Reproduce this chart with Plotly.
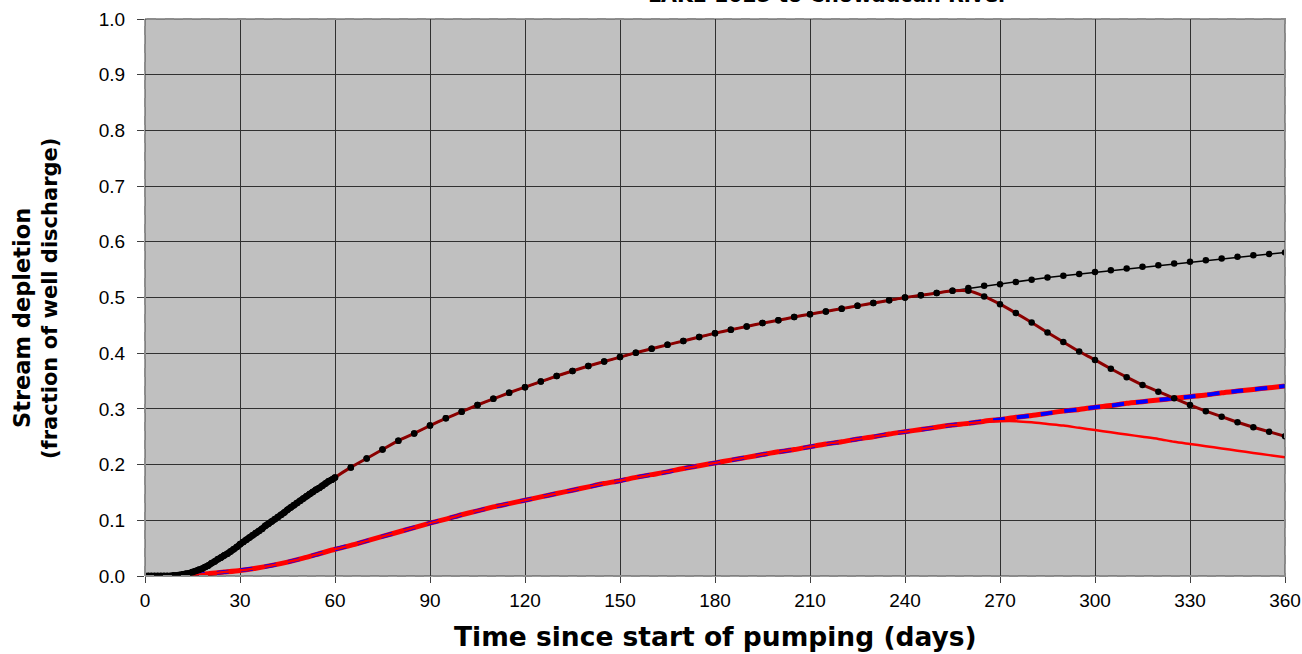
import plotly.graph_objects as go

# ---------------- data ----------------
# time axis (days): daily to 60, then every 5 days
t_dense = list(range(0, 61))
t_sparse = list(range(65, 361, 5))

# continuous pumping, upper curve (fraction of well discharge)
dep_dense = [0.000, 0.000, 0.000, 0.000, 0.000, 0.000, 0.000, 0.000, 0.000, 0.001,
             0.001, 0.002, 0.003, 0.004, 0.005, 0.007, 0.009, 0.011, 0.013, 0.016,
             0.019, 0.023, 0.026, 0.030, 0.033, 0.037, 0.040, 0.044, 0.048, 0.052,
             0.057, 0.061, 0.065, 0.069, 0.073, 0.077, 0.081, 0.085, 0.090, 0.094,
             0.098, 0.102, 0.106, 0.110, 0.114, 0.119, 0.123, 0.127, 0.131, 0.135,
             0.139, 0.143, 0.147, 0.151, 0.155, 0.158, 0.162, 0.166, 0.170, 0.173,
             0.177]
dep_sparse = [0.195, 0.211, 0.227, 0.243, 0.256, 0.270, 0.283, 0.295, 0.307, 0.318,
              0.329, 0.339, 0.349, 0.359, 0.368, 0.377, 0.385, 0.393, 0.401, 0.408,
              0.415, 0.422, 0.429, 0.436, 0.442, 0.448, 0.454, 0.459, 0.465, 0.470,
              0.475, 0.480, 0.485, 0.490, 0.495, 0.500, 0.504, 0.508, 0.512, 0.517,
              0.521, 0.524, 0.528, 0.532, 0.536, 0.539, 0.542, 0.546, 0.549, 0.552,
              0.555, 0.558, 0.561, 0.564, 0.567, 0.570, 0.573, 0.576, 0.578, 0.581]

# upper curve after pumping stops (days 260..360)
stop_count_upper = 39  # number of sparse points up to day 255
rec_upper_tail = [0.512, 0.502, 0.488, 0.472, 0.455, 0.437, 0.420, 0.403, 0.388, 0.372,
                  0.357, 0.343, 0.331, 0.319, 0.307, 0.296, 0.286, 0.276, 0.267, 0.259,
                  0.251]

# lower curve, continuous pumping (every 5 days 0..360)
t_lower = list(range(0, 361, 5))
lower_cont = [0.000, 0.000, 0.001, 0.002, 0.004, 0.007, 0.010, 0.014, 0.019, 0.025,
              0.032, 0.040, 0.048, 0.055, 0.063, 0.071, 0.079, 0.087, 0.095, 0.102,
              0.110, 0.117, 0.124, 0.130, 0.136, 0.142, 0.148, 0.154, 0.160, 0.166,
              0.171, 0.177, 0.182, 0.187, 0.193, 0.198, 0.203, 0.208, 0.213, 0.218,
              0.223, 0.227, 0.232, 0.237, 0.241, 0.246, 0.250, 0.255, 0.259, 0.263,
              0.267, 0.271, 0.274, 0.278, 0.281, 0.285, 0.288, 0.292, 0.296, 0.299,
              0.303, 0.306, 0.310, 0.313, 0.316, 0.319, 0.322, 0.325, 0.329, 0.332,
              0.335, 0.338, 0.341]
stop_count_lower = 53  # points up to day 260
rec_lower_tail = [0.277, 0.278, 0.278, 0.276, 0.273, 0.270, 0.266, 0.262, 0.258, 0.254,
                  0.250, 0.246, 0.241, 0.237, 0.233, 0.229, 0.225, 0.221, 0.217, 0.213]

x_ticks = list(range(0, 361, 30))
y_ticks = [round(v * 0.1, 1) for v in range(0, 11)]

title_text = "LAKE 1025 to Chowaucan River"
x_title = "Time since start of pumping (days)"
y_title_lines = ["Stream depletion", "(fraction of well discharge)"]

# ---------------- build ----------------
t_upper = t_dense + t_sparse
upper_cont = dep_dense + dep_sparse
upper_rec = dep_dense + dep_sparse[:stop_count_upper] + rec_upper_tail
lower_rec = lower_cont[:stop_count_lower] + rec_lower_tail

FONT = "Liberation Sans, Arial, sans-serif"
TFONT = "DejaVu Sans, Liberation Sans, Arial, sans-serif"

W, H = 1302, 654
ML, MR, MT, MB = 145, 17, 19, 78
PW, PH = W - ML - MR, H - MT - MB


def px_to_paper_x(px):
    return (px - ML) / PW


def px_to_paper_y(py):
    return (H - MB - py) / PH


fig = go.Figure()

# lower curves
fig.add_trace(go.Scatter(x=t_lower, y=lower_cont, mode="lines",
                         line=dict(color="#FF0000", width=5, shape="spline", smoothing=0.6),
                         showlegend=False))
fig.add_trace(go.Scatter(x=t_lower, y=lower_cont, mode="lines",
                         line=dict(color="#0000FF", width=4, dash="dash", shape="spline",
                                   smoothing=0.6),
                         showlegend=False))
fig.add_trace(go.Scatter(x=t_lower, y=lower_rec, mode="lines",
                         line=dict(color="#FF0000", width=2.5, shape="spline", smoothing=0.8),
                         showlegend=False))

# upper curves
fig.add_trace(go.Scatter(x=t_upper, y=upper_cont, mode="lines+markers",
                         line=dict(color="#000000", width=1.5),
                         marker=dict(color="#000000", size=6.5), showlegend=False))
fig.add_trace(go.Scatter(x=t_upper, y=upper_rec, mode="lines+markers",
                         line=dict(color="#8B0000", width=3, shape="spline", smoothing=0.4),
                         marker=dict(color="#000000", size=6.5), showlegend=False))
# densely spaced daily markers merge into a solid band
fig.add_trace(go.Scatter(x=t_dense, y=dep_dense, mode="lines",
                         line=dict(color="#000000", width=6.5, shape="spline", smoothing=0.5),
                         showlegend=False))

fig.update_layout(
    width=W, height=H,
    margin=dict(l=ML, r=MR, t=MT, b=MB, autoexpand=False),
    paper_bgcolor="white",
    plot_bgcolor="#C0C0C0",
    font=dict(family=FONT, size=19, color="black"),
    showlegend=False,
)

fig.update_xaxes(range=[0, 360], tickvals=x_ticks, ticktext=[str(v) for v in x_ticks],
                 showgrid=True, gridcolor="#303030", gridwidth=1, zeroline=False,
                 ticks="outside", ticklen=6, tickcolor="#404040", automargin=False,
                 ticklabelstandoff=1, showline=False)
fig.update_yaxes(range=[0, 1.0], tickvals=y_ticks, ticktext=[f"{v:.1f}" for v in y_ticks],
                 showgrid=True, gridcolor="#303030", gridwidth=1, zeroline=False,
                 ticks="outside", ticklen=7, tickcolor="#404040", automargin=False,
                 ticklabelstandoff=8, showline=False)

# plot-area border (dashed gray)
fig.add_shape(type="rect", xref="paper", yref="paper", x0=0, y0=0, x1=1, y1=1,
              line=dict(color="#404040", width=1), layer="above")
fig.add_shape(type="rect", xref="paper", yref="paper", x0=0, y0=0, x1=1, y1=1,
              line=dict(color="#8c8c8c", width=2, dash="dash"), layer="above")

# x-axis title
fig.add_annotation(text="<b>" + x_title + "</b>", xref="paper", yref="paper",
                   x=px_to_paper_x(715), y=px_to_paper_y(636),
                   xanchor="center", yanchor="middle", showarrow=False,
                   font=dict(size=26.5, family=TFONT))

# y-axis title (two rotated lines)
for line_text, cx, cy, fs in zip(y_title_lines, [22, 50], [318, 299], [22.5, 21]):
    fig.add_annotation(text="<b>" + line_text + "</b>", xref="paper", yref="paper",
                       x=px_to_paper_x(cx), y=px_to_paper_y(cy), textangle=-90,
                       xanchor="center", yanchor="middle", showarrow=False,
                       font=dict(size=fs, family=TFONT))

# chart title (partially cut off at the top, as in the original)
fig.add_annotation(text="<b>" + title_text + "</b>", xref="paper", yref="paper",
                   x=px_to_paper_x(828), y=px_to_paper_y(-5),
                   xanchor="center", yanchor="middle",
                   showarrow=False, font=dict(size=20.5, family=TFONT))

fig.write_html("out.html", config={"displayModeBar": False},
               post_script="document.body.style.margin='0';")
